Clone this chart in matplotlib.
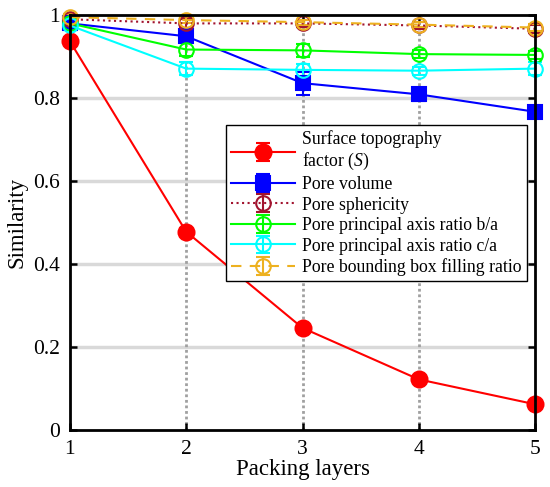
import matplotlib
matplotlib.use('Agg')
import matplotlib.pyplot as plt
from matplotlib.ticker import FormatStrFormatter

plt.rcParams['font.family'] = ['Liberation Serif', 'DejaVu Serif']
plt.rcParams['mathtext.fontset'] = 'custom'
plt.rcParams['mathtext.rm'] = 'Liberation Serif'
plt.rcParams['mathtext.it'] = 'Liberation Serif:italic'

#------------------DATA------------------#
layers = [1, 2, 3, 4, 5]

surface_s = [0.937, 0.478, 0.246, 0.122, 0.062]
surface_s_err = [0.010, 0.008, 0.008, 0.007, 0.007]

pore_volume = [0.980, 0.949, 0.836, 0.809, 0.767]
pore_volume_err = [0.010, 0.015, 0.028, 0.015, 0.011]

sphericity = [0.990, 0.980, 0.980, 0.975, 0.967]
sphericity_err = [0.010, 0.010, 0.008, 0.008, 0.010]

ratio_ba = [0.980, 0.917, 0.915, 0.906, 0.904]
ratio_ba_err = [0.010, 0.015, 0.015, 0.010, 0.010]

ratio_ca = [0.975, 0.871, 0.868, 0.866, 0.871]
ratio_ca_err = [0.010, 0.015, 0.015, 0.010, 0.015]

bbox_fill = [0.995, 0.988, 0.983, 0.977, 0.970]
bbox_fill_err = [0.008, 0.008, 0.006, 0.006, 0.008]

labels = [
    "Surface topography\nfactor ($\\mathit{S}$)",
    "Pore volume",
    "Pore sphericity",
    "Pore principal axis ratio b/a",
    "Pore principal axis ratio c/a",
    "Pore bounding box filling ratio",
]

#------------------STYLES------------------#
styles = [
    dict(color=(1, 0, 0), ls='-', marker='o', mfc=(1, 0, 0), ms=11.5),
    dict(color=(0, 0, 1), ls='-', marker='s', mfc=(0, 0, 1), ms=10),
    dict(color=(0.635, 0.078, 0.184), ls=':', marker='o', mfc='none', ms=10.5),
    dict(color=(0, 1, 0), ls='-', marker='o', mfc='none', ms=10.5),
    dict(color=(0, 1, 1), ls='-', marker='o', mfc='none', ms=10.5),
    dict(color=(0.929, 0.694, 0.125), ls=(0, (5, 4)), marker='o', mfc='none', ms=10.5),
]
series = [
    (surface_s, surface_s_err),
    (pore_volume, pore_volume_err),
    (sphericity, sphericity_err),
    (ratio_ba, ratio_ba_err),
    (ratio_ca, ratio_ca_err),
    (bbox_fill, bbox_fill_err),
]

fig = plt.figure(figsize=(5.5, 4.87), dpi=100)
ax = fig.add_axes([0.127, 0.117, 0.846, 0.852])

# grid: light solid horizontal, grey dotted vertical
for yv in [0.2, 0.4, 0.6, 0.8]:
    ax.axhline(yv, color='#d9d9d9', lw=2.5, zorder=0)
for xv in [2, 3, 4]:
    ax.axvline(xv, color='#a0a0a0', lw=2, ls=(0, (1, 1)), zorder=0)

for (vals, errs), st, lab in zip(series, styles, labels):
    ax.errorbar(layers, vals, yerr=errs, color=st['color'], ls=st['ls'], lw=1.5,
                marker=st['marker'], mfc=st['mfc'], mec=st['color'], ms=st['ms'],
                mew=1.5, elinewidth=1.5, capsize=5, capthick=1.5, label=lab,
                clip_on=False)

ax.set_xlim(1, 5)
ax.set_ylim(0, 1)
ax.set_xticks(layers)
ax.set_yticks([0, 0.2, 0.4, 0.6, 0.8, 1])
ax.yaxis.set_major_formatter(FormatStrFormatter('%g'))
ax.tick_params(direction='in', top=True, right=True, length=5, width=1.8,
               labelsize=15.5, pad=7)
for sp in ax.spines.values():
    sp.set_linewidth(2)

ax.set_xlabel("Packing layers", fontsize=16.5, labelpad=0)
ax.set_ylabel("Similarity", fontsize=16.5, labelpad=4)

leg = ax.legend(loc='upper left', bbox_to_anchor=(0.335, 0.735), fontsize=12.8,
                handlelength=3.6, handletextpad=0.4, labelspacing=0.2,
                borderpad=0.3, borderaxespad=0, fancybox=False, framealpha=1)
leg.get_frame().set_edgecolor('black')
leg.get_frame().set_linewidth(1)

plt.savefig('out.png', dpi=100)
